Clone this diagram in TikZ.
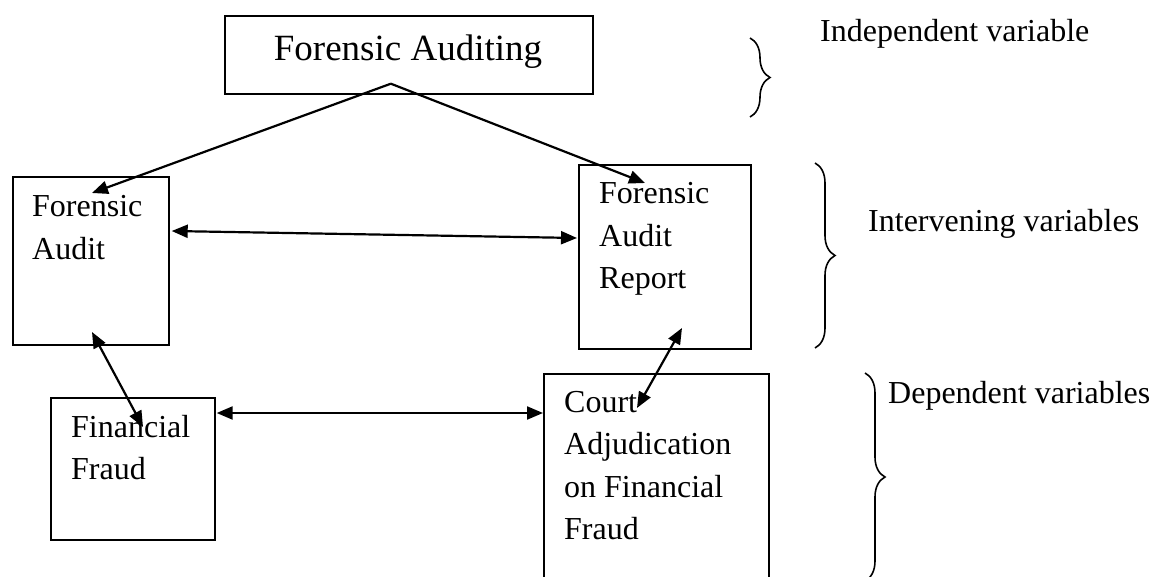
\documentclass[tikz,border=0pt]{standalone}
\usepackage{fontspec}
\setmainfont{Liberation Serif}
\usetikzlibrary{calc,arrows.meta,decorations.pathreplacing}
\begin{document}
\begin{tikzpicture}[x=1pt,y=-1pt,
  box/.style={draw,line width=1.7pt,inner sep=0pt,anchor=north west},
  lbl/.style={anchor=base west,inner sep=0pt,font=\fontsize{32}{42.5}\selectfont},
  conn/.style={line width=2.2pt,-{Triangle[length=16pt,width=13pt]}},
  conntwo/.style={line width=2.2pt,{Triangle[length=16pt,width=13pt]}-{Triangle[length=16pt,width=13pt]}},
  brc/.style={decorate,decoration={brace,amplitude=20pt,aspect=0.5},line width=1.6pt}]
\clip (0,0) rectangle (1151,577);
\fill[white] (0,0) rectangle (1151,577);

% boxes
\node[box,minimum width=368pt,minimum height=78pt] (top) at (224,15) {};
\node[box,minimum width=156pt,minimum height=168pt] (fa) at (12,176) {};
\node[box,minimum width=172pt,minimum height=184pt] (far) at (578,164) {};
\node[box,minimum width=164pt,minimum height=142pt] (ff) at (50,397) {};
\node[box,minimum width=225pt,minimum height=240pt] (court) at (543,373) {};

% box texts
\node[anchor=base,inner sep=0pt,font=\fontsize{37}{44}\selectfont] (topt) at (408,61) {Forensic Auditing};
\node[lbl] (fat) at (32,217) {\begin{tabular}[t]{@{}l@{}}Forensic\\Audit\end{tabular}};
\node[lbl] (fart) at (599,204) {\begin{tabular}[t]{@{}l@{}}Forensic\\Audit\\Report\end{tabular}};
\node[lbl] (fft) at (71,437) {\begin{tabular}[t]{@{}l@{}}Financial\\Fraud\end{tabular}};
\node[lbl] (courtt) at (564,412) {\begin{tabular}[t]{@{}l@{}}Court\\Adjudication\\on Financial\\Fraud\end{tabular}};

% side labels
\node[lbl] (indep) at (820,42) {Independent variable};
\node[lbl] (interv) at (868,232) {Intervening variables};
\node[lbl] (dep) at (888,403) {Dependent variables};

% braces
\draw[brc] (750,38) -- (750,117);
\draw[brc] (815,163) -- (815,348);
\draw[brc] (865,373) -- (865,581);

% connectors
\coordinate (apex) at ($(top.south)+(-18,-11)$);
\coordinate (faIn) at ($(fa.north west)+(80,17)$);
\coordinate (farIn) at ($(far.north west)+(67,19)$);
\draw[conn] (apex) -- (faIn);
\draw[conn] (apex) -- (farIn);

\coordinate (faR) at ($(fa.north east)+(2,55)$);
\coordinate (farL) at ($(far.north west)+(-1,74)$);
\draw[conntwo] (faR) -- (farL);

\coordinate (faB) at ($(fa.north west)+(80,156)$);
\coordinate (ffT) at ($(ff.north west)+(93,30)$);
\draw[conntwo] (faB) -- (ffT);

\coordinate (farB) at ($(far.north west)+(104,164)$);
\coordinate (courtT) at ($(court.north west)+(94,35)$);
\draw[conntwo] (farB) -- (courtT);

\coordinate (ffR) at ($(ff.north east)+(1,16)$);
\coordinate (courtL) at ($(court.north west)+(0,40)$);
\draw[conntwo] (ffR) -- (courtL);
\end{tikzpicture}
\end{document}
